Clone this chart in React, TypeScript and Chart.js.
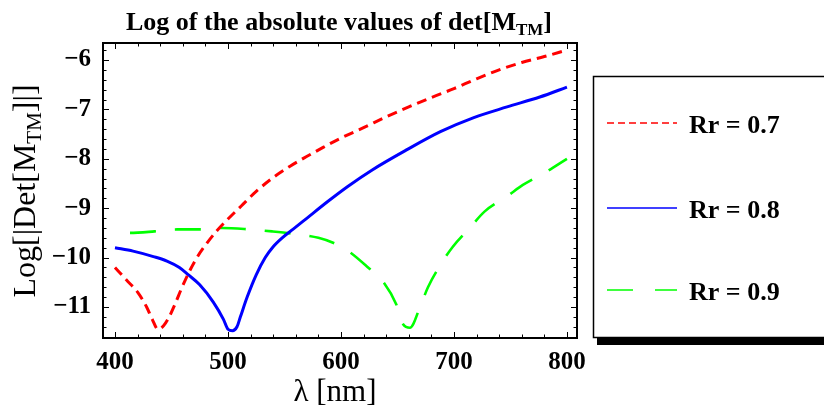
import React, { useEffect, useRef } from "react";
import { Chart, registerables } from "chart.js";

Chart.register(...registerables);

// ---- data ----
const xTickValues = [400, 500, 600, 700, 800];
const yTickValues = [-11, -10, -9, -8, -7, -6];

const lambda07 = [400, 410, 420, 428, 433, 438, 443, 448, 453, 459, 465, 472, 480, 490, 500, 512, 525, 540, 555, 570, 585, 600, 620, 640, 660, 680, 700, 720, 740, 760, 780, 800];
const logDet07 = [-10.2, -10.45, -10.7, -11.0, -11.25, -11.45, -11.38, -11.2, -10.95, -10.62, -10.32, -10.02, -9.75, -9.46, -9.22, -8.95, -8.66, -8.38, -8.15, -7.95, -7.76, -7.58, -7.37, -7.15, -6.95, -6.76, -6.58, -6.38, -6.2, -6.05, -5.93, -5.8];

const lambda08 = [400, 416, 434, 446, 457, 465, 475, 487, 496, 500, 504, 508, 511, 517, 525, 533, 540, 548, 558, 570, 588, 606, 628, 658, 688, 717, 747, 776, 800];
const logDet08 = [-9.8, -9.87, -9.98, -10.07, -10.2, -10.35, -10.55, -10.9, -11.25, -11.45, -11.48, -11.4, -11.2, -10.8, -10.35, -10.0, -9.78, -9.6, -9.42, -9.2, -8.87, -8.56, -8.22, -7.82, -7.45, -7.17, -6.95, -6.75, -6.55];

const lambda09 = [400, 413, 435, 455, 478, 495, 519, 539, 562, 580, 593, 606, 624, 637, 649, 655, 661, 670, 677, 688, 699, 714, 727, 747, 761, 782, 800];
const logDet09 = [-9.5, -9.5, -9.47, -9.43, -9.43, -9.4, -9.43, -9.47, -9.53, -9.6, -9.7, -9.86, -10.2, -10.48, -10.95, -11.35, -11.42, -11.0, -10.6, -10.15, -9.78, -9.4, -9.07, -8.76, -8.53, -8.26, -8.0];

const seriesLabels = ["Rr = 0.7", "Rr = 0.8", "Rr = 0.9"];
const seriesColors = ["#ff0000", "#0000ff", "#00ff00"];

const titleMain = "Log of the absolute values of det[M";
const titleSub = "TM";
const yTitleMain = "Log[|Det[M";
const yTitleSub = "TM";
const yTitleEnd = "]|]";
const xTitle = "λ [nm]";

const SERIF = "'Liberation Serif', 'Times New Roman', serif";

const toPoints = (xs: number[], ys: number[]) => xs.map((x, i) => ({ x, y: ys[i] }));

type Part = { t: string; font: string; dy?: number };

function drawParts(ctx: CanvasRenderingContext2D, parts: Part[], cx: number, baseline: number) {
  let total = 0;
  const widths = parts.map((p) => {
    ctx.font = p.font;
    const w = ctx.measureText(p.t).width;
    total += w;
    return w;
  });
  let x = cx - total / 2;
  ctx.textAlign = "left";
  ctx.textBaseline = "alphabetic";
  parts.forEach((p, i) => {
    ctx.font = p.font;
    ctx.fillText(p.t, x, baseline + (p.dy || 0));
    x += widths[i];
  });
}

const decorPlugin = {
  id: "decor",
  afterDraw(chart: any) {
    const ctx: CanvasRenderingContext2D = chart.ctx;
    const { left, right, top, bottom } = chart.chartArea;
    const xs = chart.scales.x;
    const ys = chart.scales.y;
    ctx.save();
    ctx.fillStyle = "#000";
    ctx.strokeStyle = "#000";

    // inward ticks
    ctx.lineWidth = 1;
    ctx.beginPath();
    for (let v = 400; v <= 800; v += 20) {
      const px = Math.round(xs.getPixelForValue(v)) + 0.5;
      const len = v % 100 === 0 ? 6 : 3.5;
      ctx.moveTo(px, bottom);
      ctx.lineTo(px, bottom - len);
      ctx.moveTo(px, top);
      ctx.lineTo(px, top + len);
    }
    for (let k = -58; k <= -28; k++) {
      const v = k / 5;
      if (v < ys.min || v > ys.max) continue;
      const py = Math.round(ys.getPixelForValue(v)) + 0.5;
      const len = k % 5 === 0 ? 6 : 3.5;
      ctx.moveTo(left, py);
      ctx.lineTo(left + len, py);
      ctx.moveTo(right, py);
      ctx.lineTo(right - len, py);
    }
    ctx.stroke();

    // frame
    ctx.lineWidth = 2;
    ctx.strokeRect(left, top, right - left, bottom - top);

    // title
    drawParts(
      ctx,
      [
        { t: titleMain, font: `bold 26px ${SERIF}` },
        { t: titleSub, font: `bold 17px ${SERIF}`, dy: 5 },
        { t: "]", font: `bold 26px ${SERIF}` },
      ],
      339,
      30
    );

    // x title
    drawParts(ctx, [{ t: xTitle, font: `31px ${SERIF}` }], 335, 401);

    // y title
    ctx.save();
    ctx.translate(35, 191);
    ctx.rotate(-Math.PI / 2);
    drawParts(
      ctx,
      [
        { t: yTitleMain, font: `32px ${SERIF}` },
        { t: yTitleSub, font: `21px ${SERIF}`, dy: 6 },
        { t: yTitleEnd, font: `32px ${SERIF}` },
      ],
      0,
      0
    );
    ctx.restore();

    // legend box
    ctx.fillStyle = "#000";
    ctx.fillRect(597, 338, 824 - 597, 7);
    ctx.fillStyle = "#fff";
    ctx.fillRect(593, 76, 240, 261);
    ctx.lineWidth = 1.5;
    ctx.strokeStyle = "#000";
    ctx.strokeRect(593.5, 76.5, 240, 261);

    const rows = [
      { y: 123, dash: [7, 4], w: 1.6 },
      { y: 208, dash: [], w: 1.6 },
      { y: 290, dash: [26, 22], w: 1.6 },
    ];
    rows.forEach((r, i) => {
      ctx.strokeStyle = seriesColors[i];
      ctx.lineWidth = r.w;
      ctx.setLineDash(r.dash);
      ctx.beginPath();
      ctx.moveTo(607, r.y);
      ctx.lineTo(677, r.y);
      ctx.stroke();
      ctx.setLineDash([]);
      ctx.fillStyle = "#000";
      ctx.font = `bold 26px ${SERIF}`;
      ctx.textAlign = "left";
      ctx.textBaseline = "alphabetic";
      ctx.fillText(seriesLabels[i], 689, r.y + 10);
    });

    ctx.restore();
  },
};

export default function App() {
  const canvasRef = useRef<HTMLCanvasElement | null>(null);

  useEffect(() => {
    if (!canvasRef.current) return;
    const chart = new Chart(canvasRef.current, {
      type: "line",
      data: {
        datasets: [
          {
            label: seriesLabels[0],
            data: toPoints(lambda07, logDet07),
            borderColor: seriesColors[0],
            borderWidth: 3,
            borderDash: [10, 6],
            pointRadius: 0,
            cubicInterpolationMode: "monotone",
            fill: false,
          },
          {
            label: seriesLabels[1],
            data: toPoints(lambda08, logDet08),
            borderColor: seriesColors[1],
            borderWidth: 3,
            pointRadius: 0,
            cubicInterpolationMode: "monotone",
            fill: false,
          },
          {
            label: seriesLabels[2],
            data: toPoints(lambda09, logDet09),
            borderColor: seriesColors[2],
            borderWidth: 2.6,
            borderDash: [26, 19],
            borderDashOffset: 30,
            pointRadius: 0,
            cubicInterpolationMode: "monotone",
            fill: false,
          },
        ],
      },
      options: {
        responsive: false,
        animation: false,
        layout: { padding: { top: 43, right: 247, left: 0, bottom: 0 } },
        plugins: {
          legend: { display: false },
          title: { display: false },
          tooltip: { enabled: false },
        },
        scales: {
          x: {
            type: "linear",
            min: 389.4,
            max: 808.9,
            grid: { display: false, drawTicks: false },
            border: { display: false },
            afterBuildTicks: (scale: any) => {
              scale.ticks = xTickValues.map((v) => ({ value: v }));
            },
            afterFit: (scale: any) => {
              scale.height = 71;
            },
            ticks: {
              color: "#000",
              padding: 10,
              maxRotation: 0,
              autoSkip: false,
              font: { family: SERIF, weight: "bold", size: 25 },
              callback: (v: any) => String(v),
            },
          },
          y: {
            type: "linear",
            min: -11.628,
            max: -5.656,
            grid: { display: false, drawTicks: false },
            border: { display: false },
            afterBuildTicks: (scale: any) => {
              scale.ticks = yTickValues.map((v) => ({ value: v }));
            },
            afterFit: (scale: any) => {
              scale.width = 103;
            },
            ticks: {
              color: "#000",
              padding: 12,
              autoSkip: false,
              font: { family: SERIF, weight: "bold", size: 25 },
              callback: (v: any) => (Number(v) < 0 ? "\u2212" + Math.abs(Number(v)) : String(v)),
            },
          },
        },
      },
      plugins: [decorPlugin],
    });
    return () => chart.destroy();
  }, []);

  return (
    <div style={{ position: "absolute", left: 0, top: 0, width: 824, height: 409, background: "#fff" }}>
      <canvas ref={canvasRef} width={824} height={409} style={{ display: "block", width: 824, height: 409 }} />
    </div>
  );
}
